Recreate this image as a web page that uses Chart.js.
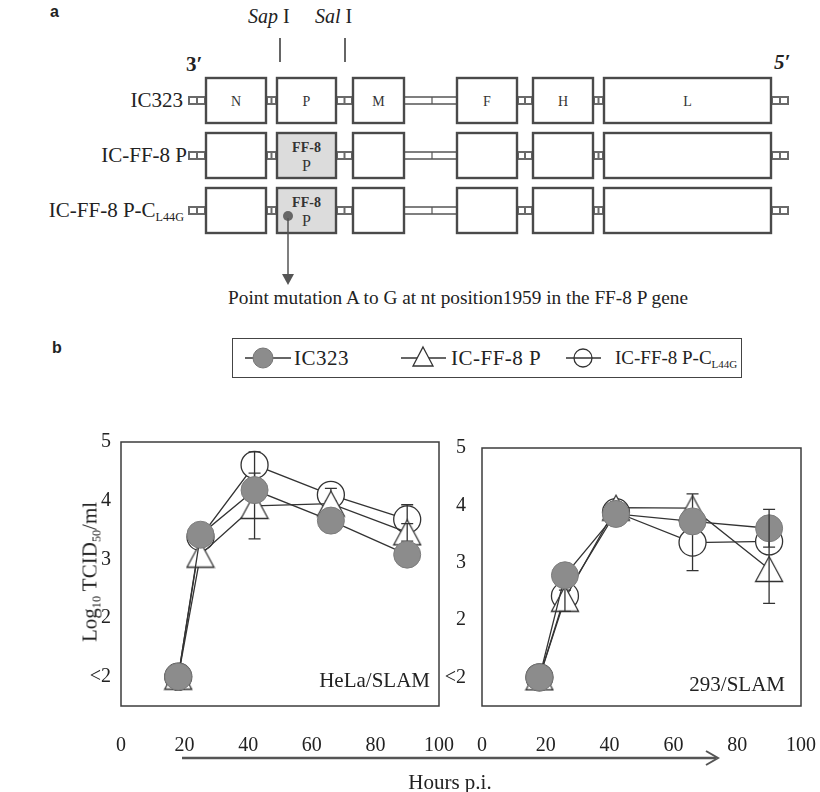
<!DOCTYPE html>
<html><head><meta charset="utf-8">
<script src="https://cdn.jsdelivr.net/npm/chart.js@4.4.1/dist/chart.umd.min.js"></script>
<style>
html,body{margin:0;padding:0;background:#fff;}
#root{position:relative;width:820px;height:792px;overflow:hidden;font-family:"Liberation Serif","Times New Roman",serif;color:#222;}
.t{position:absolute;white-space:nowrap;line-height:1;}
.cw{position:absolute;}
sub{font-size:58%;vertical-align:baseline;position:relative;top:0.35em;}
</style></head>
<body><div id="root">
<svg id="diag" width="820" height="320" style="position:absolute;left:0;top:0"></svg>
<div class="t" style="left:50px;top:4px;font-family:'Liberation Sans',Arial,sans-serif;font-size:16px;font-weight:bold;">a</div>
<div class="t" style="left:52px;top:340px;font-family:'Liberation Sans',Arial,sans-serif;font-size:16px;font-weight:bold;">b</div>
<div class="t" style="left:248px;top:6px;font-size:20px;"><i>Sap</i> I</div>
<div class="t" style="left:315px;top:6px;font-size:20px;"><i>Sal</i> I</div>
<div class="t" style="left:186px;top:54px;font-size:21px;font-weight:bold;">3′</div>
<div class="t" style="left:774px;top:52px;font-size:21px;font-weight:bold;font-style:italic;">5′</div>
<div class="t" style="right:637px;top:90px;font-size:21px;">IC323</div>
<div class="t" style="right:633px;top:145px;font-size:21px;">IC-FF-8 P</div>
<div class="t" style="right:636px;top:200px;font-size:21px;">IC-FF-8 P-C<sub>L44G</sub></div>
<div class="t" style="left:0;width:916px;text-align:center;top:288px;font-size:19.3px;">Point mutation A to G at nt position1959 in the FF-8 P gene</div>

<div id="legend" style="position:absolute;left:232px;top:338px;width:510px;height:40px;border:1.5px solid #444;box-sizing:border-box;">
  <svg width="510" height="40" style="position:absolute;left:0;top:0">
    <line x1="12" y1="19" x2="58" y2="19" stroke="#333" stroke-width="1.5"/>
    <circle cx="30" cy="19" r="10" fill="#8c8c8c" stroke="#777" stroke-width="1"/>
    <line x1="168" y1="19" x2="213" y2="19" stroke="#333" stroke-width="1.5"/>
    <polygon points="190,8 200,27 180,27" fill="#fff" stroke="#333" stroke-width="1.3"/>
    <line x1="333" y1="19" x2="368" y2="19" stroke="#333" stroke-width="1.5"/>
    <circle cx="350" cy="19" r="9" fill="none" stroke="#333" stroke-width="1.3"/>
  </svg>
  <div class="t" style="left:61px;top:9px;font-size:21px;letter-spacing:0.5px;">IC323</div>
  <div class="t" style="left:218px;top:9px;font-size:21px;letter-spacing:0.5px;">IC-FF-8 P</div>
  <div class="t" style="left:382px;top:9px;font-size:19px;">IC-FF-8 P-C<sub>L44G</sub></div>
</div>

<div class="cw" style="left:0;top:420px;width:460px;height:340px;"><canvas id="c1" width="460" height="340"></canvas></div>
<div class="cw" style="left:420px;top:420px;width:400px;height:340px;"><canvas id="c2" width="400" height="340"></canvas></div>

<div class="t" style="left:90px;top:572px;font-size:21px;transform:translate(-50%,-50%) rotate(-90deg);">Log<sub>10</sub> TCID<sub>50</sub>/ml</div>
<div class="t" style="right:390px;top:670px;font-size:21px;">HeLa/SLAM</div>
<div class="t" style="right:35px;top:674px;font-size:21px;">293/SLAM</div>
<svg width="820" height="40" style="position:absolute;left:0;top:740px">
  <line x1="182" y1="18" x2="716" y2="18" stroke="#555" stroke-width="2.5"/>
  <polyline points="706,11 718,18 706,25" fill="none" stroke="#555" stroke-width="2"/>
</svg>
<div class="t" style="left:0;width:900px;text-align:center;top:772px;font-size:21px;">Hours p.i.</div>
</div>

<script>
// ---- data ----
const hoursHeLa = [18, 25, 42, 66, 90];
const hours293  = [18, 26, 42, 66, 90];

const helaIC323 = [1, 3.42, 4.18, 3.66, 3.08];
const helaFF8P  = [1, 3.08, 3.91, 3.95, 3.46];
const helaL44G  = [1, 3.38, 4.61, 4.10, 3.68];
const helaErrIC323 = [0, 0, 0, 0, 0];
const helaErrFF8P  = [0, 0, 0.56, 0, 0.15];
const helaErrL44G  = [0, 0, 0.22, 0.11, 0.25];

const c293IC323 = [1, 2.78, 3.85, 3.72, 3.60];
const c293FF8P  = [1, 2.37, 3.96, 3.95, 2.89];
const c293L44G  = [1, 2.42, 3.88, 3.35, 3.37];
const c293ErrIC323 = [0, 0, 0, 0, 0.33];
const c293ErrFF8P  = [0, 0.22, 0.1, 0.25, 0.6];
const c293ErrL44G  = [0, 0.1, 0, 0.49, 0];

const xTickValues = [0, 20, 40, 60, 80, 100];
const yTickValues = [1, 2, 3, 4, 5];
const yTickLabels = ['<2', '2', '3', '4', '5'];
const seriesNames = ['IC323', 'IC-FF-8 P', 'IC-FF-8 P-CL44G'];

// ---- diagram (panel a) ----
(function(){
  const svg = document.getElementById('diag');
  const NS = 'http://www.w3.org/2000/svg';
  function el(tag, attrs, parent){ const e=document.createElementNS(NS,tag); for(const k in attrs) e.setAttribute(k,attrs[k]); (parent||svg).appendChild(e); return e; }
  const rowTops = [78, 133, 188], H = 45;
  const boxes = [[206,60,'N'],[277,59,'P'],[353,51,'M'],[457,60,'F'],[533,60,'H'],[604,167,'L']];
  const conns = [[188,18],[266,11],[336,17],[517,16],[593,11],[771,18]];
  el('line',{x1:280,y1:38,x2:280,y2:62,stroke:'#333','stroke-width':1.5});
  el('line',{x1:345,y1:38,x2:345,y2:62,stroke:'#333','stroke-width':1.5});
  rowTops.forEach((top,r)=>{
    const cy = top + H/2;
    conns.forEach(([x,w])=>{
      el('rect',{x:x,y:cy-4.5,width:w,height:9,fill:'#6a6a6a'});
      const sw = Math.max(2,(w-6)/2);
      el('rect',{x:x+2,y:cy-2.5,width:sw,height:5,fill:'#fff'});
      el('rect',{x:x+w-2-sw,y:cy-2.5,width:sw,height:5,fill:'#fff'});
    });
    el('rect',{x:404,y:cy-3.5,width:53,height:7,fill:'#fff',stroke:'#555','stroke-width':1.5});
    el('line',{x1:432,y1:cy-3.5,x2:432,y2:cy+3.5,stroke:'#555','stroke-width':1.2});
    boxes.forEach(([x,w,lab])=>{
      const grey = (r>0 && lab==='P');
      el('rect',{x:x,y:top,width:w,height:H,fill:grey?'#dcdcdc':'#fff',stroke:'#4a4a4a','stroke-width':2.4});
      if(r===0){
        const t=el('text',{x:x+w/2,y:cy+5,'text-anchor':'middle','font-size':14,'font-family':'Liberation Serif',fill:'#333'});
        t.textContent=lab;
      } else if(grey){
        const t1=el('text',{x:x+w/2,y:top+19,'text-anchor':'middle','font-size':14,'font-weight':'bold','font-family':'Liberation Serif',fill:'#333'});
        t1.textContent='FF-8';
        const t2=el('text',{x:x+w/2,y:top+38,'text-anchor':'middle','font-size':16,'font-family':'Liberation Serif',fill:'#333'});
        t2.textContent='P';
      }
    });
  });
  el('circle',{cx:288,cy:216,r:5,fill:'#666'});
  el('line',{x1:288,y1:218,x2:288,y2:276,stroke:'#555','stroke-width':1.5});
  el('polygon',{points:'282,274 294,274 288,285',fill:'#555'});
})();

// ---- charts (panel b) ----
function xy(xs, ys){ return xs.map((x,i)=>({x:x,y:ys[i]})); }
function triangleImage(){
  const c=document.createElement('canvas'); c.width=30; c.height=28;
  const g=c.getContext('2d');
  g.beginPath(); g.moveTo(15,1.5); g.lineTo(28.5,26.5); g.lineTo(1.5,26.5); g.closePath();
  g.fillStyle='#fff'; g.fill(); g.lineWidth=1.3; g.strokeStyle='#333'; g.stroke();
  return c;
}
const triImg = triangleImage();

const framePlugin = {
  id:'frame',
  afterDraw(chart){
    const a=chart.chartArea, ctx=chart.ctx;
    ctx.save(); ctx.strokeStyle='#3c3c3c'; ctx.lineWidth=1.5;
    ctx.strokeRect(a.left, a.top, a.right-a.left, a.bottom-a.top);
    ctx.restore();
  }
};
const errorPlugin = {
  id:'errbars',
  afterDatasetDraw(chart, args){
    const ds = chart.data.datasets[args.index];
    if(!ds.errors) return;
    const xs=chart.scales.x, ys=chart.scales.y, ctx=chart.ctx;
    ctx.save(); ctx.strokeStyle='#333'; ctx.lineWidth=1.3;
    ds.data.forEach((p,i)=>{
      const e=ds.errors[i]; if(!e) return;
      const px=xs.getPixelForValue(p.x), y1=ys.getPixelForValue(p.y-e), y2=ys.getPixelForValue(p.y+e);
      ctx.beginPath();
      ctx.moveTo(px,y1); ctx.lineTo(px,y2);
      ctx.moveTo(px-6,y1); ctx.lineTo(px+6,y1);
      ctx.moveTo(px-6,y2); ctx.lineTo(px+6,y2);
      ctx.stroke();
    });
    ctx.restore();
  }
};

function makeChart(id, hours, s1, s2, s3, e1, e2, e3, pad, yWidth, yPad){
  const font = {family:"'Liberation Serif', serif", size:20};
  const noGrid = {color:'rgba(0,0,0,0)', drawTicks:true, tickLength:24, lineWidth:0};
  return new Chart(document.getElementById(id), {
    type:'scatter',
    data:{datasets:[
      {label:seriesNames[0], data:xy(hours,s1), errors:e1, showLine:true, borderColor:'#333', borderWidth:1.3,
       pointStyle:'circle', pointRadius:13.5, pointBackgroundColor:'#8c8c8c', pointBorderColor:'#7c7c7c', pointBorderWidth:1},
      {label:seriesNames[1], data:xy(hours,s2), errors:e2, showLine:true, borderColor:'#333', borderWidth:1.3,
       pointStyle:triImg, pointRadius:14},
      {label:seriesNames[2], data:xy(hours,s3), errors:e3, showLine:true, borderColor:'#333', borderWidth:1.3,
       pointStyle:'circle', pointRadius:13.5, pointBackgroundColor:'#fff', pointBorderColor:'#333', pointBorderWidth:1.3}
    ]},
    options:{
      responsive:false, animation:false, devicePixelRatio:1,
      layout:{padding:pad},
      plugins:{legend:{display:false}, tooltip:{enabled:false}},
      scales:{
        x:{type:'linear', min:0, max:100,
           afterBuildTicks:s=>{s.ticks=xTickValues.map(v=>({value:v}));},
           ticks:{font:font, color:'#222', padding:4, maxRotation:0},
           grid:noGrid, border:{display:false},
           afterFit:s=>{s.height=54;}},
        y:{type:'linear', min:0.5, max:5,
           afterBuildTicks:s=>{s.ticks=yTickValues.map(v=>({value:v}));},
           ticks:{font:font, color:'#222', padding:yPad, callback:(v)=>yTickLabels[yTickValues.indexOf(v)]},
           grid:{display:false, drawTicks:false}, border:{display:false},
           afterFit:s=>{s.width=yWidth;}}
      }
    },
    plugins:[framePlugin, errorPlugin]
  });
}
makeChart('c1', hoursHeLa, helaIC323, helaFF8P, helaL44G, helaErrIC323, helaErrFF8P, helaErrL44G,
  {top:19, right:21, bottom:0, left:0}, 121, 10);
makeChart('c2', hours293, c293IC323, c293FF8P, c293L44G, c293ErrIC323, c293ErrFF8P, c293ErrL44G,
  {top:15, right:19, bottom:0, left:0}, 62, 16);
</script>
</body></html>
